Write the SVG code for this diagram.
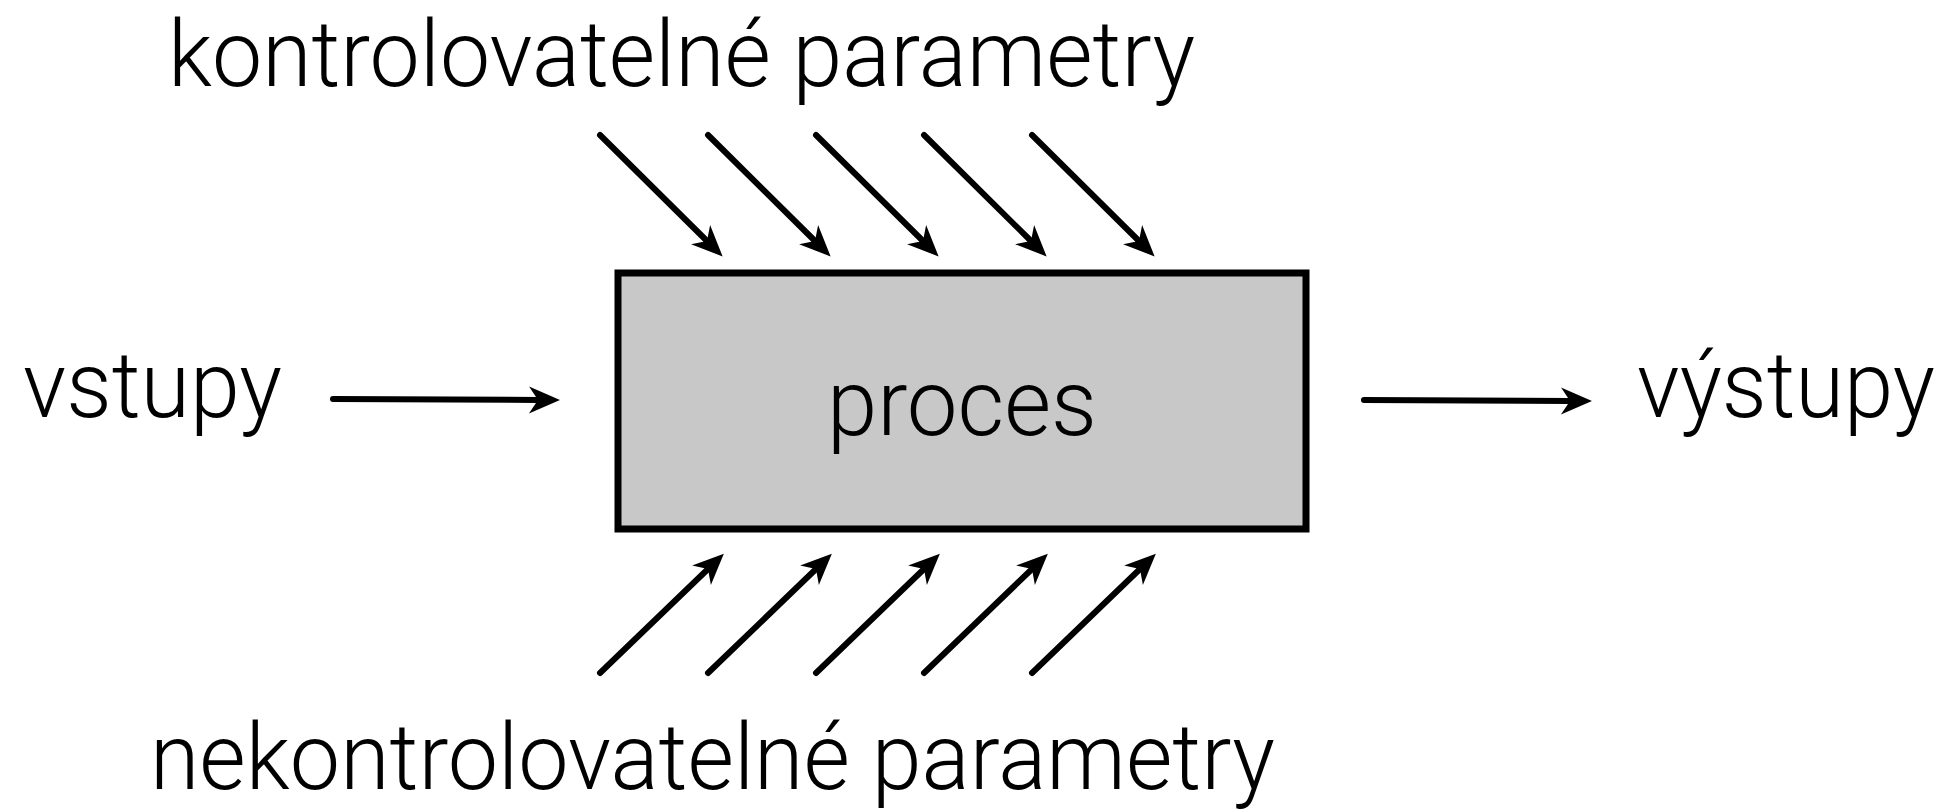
<svg xmlns="http://www.w3.org/2000/svg" width="1951" height="809" viewBox="0 0 1951 809">
  <style>
    .label { font-family: "Roboto", "Liberation Sans", Arial, sans-serif; font-weight: 300; font-size: 92px; fill: #000; }
    .box { fill: #c8c8c8; stroke: #000; stroke-width: 7; }
    .arrow { stroke: #000; stroke-width: 6; stroke-linecap: round; fill: none; marker-end: url(#head); }
  </style>
  <defs>
    <!-- filled arrowhead with a notched back, tip 22 units past the line end -->
    <marker id="head" markerUnits="userSpaceOnUse" viewBox="-14 -16 40 32" refX="0" refY="0" markerWidth="40" markerHeight="32" orient="auto">
      <path d="M22,0 L-9,-13.5 L0,0 L-9,13.5 Z" fill="#000"/>
    </marker>
  </defs>
  <rect width="1951" height="809" fill="#fff"/>

  <g id="controllable-label">
    <text class="label" x="168" y="86" textLength="1027" lengthAdjust="spacingAndGlyphs">kontrolovatelné parametry</text>
  </g>
  <g id="uncontrollable-label">
    <text class="label" x="150" y="789" textLength="1125" lengthAdjust="spacingAndGlyphs">nekontrolovatelné parametry</text>
  </g>
  <g id="inputs">
    <text class="label" x="23" y="417" textLength="259" lengthAdjust="spacingAndGlyphs">vstupy</text>
  </g>
  <g id="outputs">
    <text class="label" x="1637" y="417" textLength="298" lengthAdjust="spacingAndGlyphs">výstupy</text>
  </g>
  <g id="process">
    <rect class="box" x="618" y="273" width="688" height="256"/>
    <text class="label" x="827" y="435" textLength="270" lengthAdjust="spacingAndGlyphs">proces</text>
  </g>

  <g id="connectors">
    <!-- controllable parameters, entering from above -->
    <line class="arrow" x1="600" y1="135" x2="707" y2="241"/>
    <line class="arrow" x1="708" y1="135" x2="815" y2="241"/>
    <line class="arrow" x1="816" y1="135" x2="923" y2="241"/>
    <line class="arrow" x1="924" y1="135" x2="1031" y2="241"/>
    <line class="arrow" x1="1032" y1="135" x2="1139" y2="241"/>
    <!-- uncontrollable parameters, entering from below -->
    <line class="arrow" x1="600" y1="673" x2="708" y2="569"/>
    <line class="arrow" x1="708" y1="673" x2="816" y2="569"/>
    <line class="arrow" x1="816" y1="673" x2="924" y2="569"/>
    <line class="arrow" x1="924" y1="673" x2="1032" y2="569"/>
    <line class="arrow" x1="1032" y1="673" x2="1140" y2="569"/>
    <!-- inputs and outputs -->
    <line class="arrow" x1="333" y1="399" x2="538" y2="400"/>
    <line class="arrow" x1="1364" y1="400" x2="1570" y2="401"/>
  </g>
</svg>
